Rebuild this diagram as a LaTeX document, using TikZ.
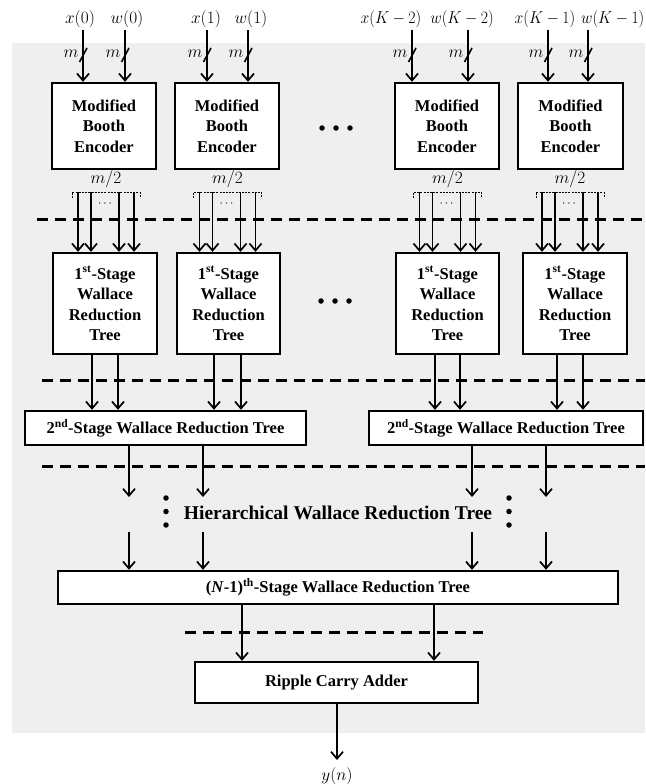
\documentclass[tikz,border=0pt]{standalone}
\usepackage{fontspec}
\setmainfont{Liberation Serif}
\usetikzlibrary{arrows.meta}
\definecolor{bgray}{RGB}{239,239,239}
\newcommand{\kscale}[1]{\scalebox{0.91}[1]{#1}}
\begin{document}
\begin{tikzpicture}[x=1pt,y=-1pt,
  box/.style={draw, line width=2.4pt, fill=white, inner sep=0pt, align=center,
    font=\bfseries\fontsize{16.5}{20.5}\selectfont},
  arr/.style={line width=1.7pt, -{Straight Barb[length=7pt,width=12pt,line width=1.7pt]}},
  sep/.style={line width=3pt, dash pattern=on 11pt off 7pt},
  brk/.style={line width=1pt, dash pattern=on 2pt off 1.2pt},
  lbl/.style={font=\fontsize{16.5}{18}\selectfont, inner sep=0pt},
  small/.style={font=\fontsize{16}{17}\selectfont, inner sep=0pt},
  bigdot/.style={fill=black, circle, inner sep=0pt, minimum size=5.5pt},
  busslash/.pic={\draw[line width=1.6pt] (-3.5,7) -- (4,-7);
                 \node[small] at (-12,-1) {$m$};}]

\useasboundingbox (0,0) rectangle (645,784);
\fill[bgray] (12,43) rectangle (645,733);

% separators
\draw[sep] (37,219) -- (645,219);
\draw[sep] (42,380) -- (645,380);
\draw[sep] (42,466) -- (645,466);
\draw[sep] (185,632) -- (483,632);

% encoder boxes
\node[box, minimum width=104pt, minimum height=86pt] (E1) at (104,126) {Modified\\Booth\\Encoder};
\node[box, minimum width=104pt, minimum height=86pt] (E2) at (227,126) {Modified\\Booth\\Encoder};
\node[box, minimum width=104pt, minimum height=86pt] (E3) at (447,126) {Modified\\Booth\\Encoder};
\node[box, minimum width=105pt, minimum height=86pt] (E4) at (570.5,126) {Modified\\Booth\\Encoder};

% first-stage boxes
\node[box, minimum width=104pt, minimum height=101pt] (S1) at (105,303.5) {1\textsuperscript{st}-Stage\\Wallace\\Reduction\\Tree};
\node[box, minimum width=103pt, minimum height=101pt] (S2) at (228.5,303.5) {1\textsuperscript{st}-Stage\\Wallace\\Reduction\\Tree};
\node[box, minimum width=103pt, minimum height=101pt] (S3) at (447.5,303.5) {1\textsuperscript{st}-Stage\\Wallace\\Reduction\\Tree};
\node[box, minimum width=104pt, minimum height=101pt] (S4) at (575,303.5) {1\textsuperscript{st}-Stage\\Wallace\\Reduction\\Tree};

% second-stage boxes
\node[box, minimum width=281pt, minimum height=34pt] (T1) at (165.5,428) {2\textsuperscript{nd}-Stage Wallace Reduction Tree};
\node[box, minimum width=274pt, minimum height=34pt] (T2) at (506,428) {2\textsuperscript{nd}-Stage Wallace Reduction Tree};

% (N-1)th stage and adder
\node[box, minimum width=560pt, minimum height=33pt] (N) at (338,587.5) {(\textit{N}-1)\textsuperscript{th}-Stage Wallace Reduction Tree};
\node[box, minimum width=283pt, minimum height=41pt] (R) at (336.5,682.5) {Ripple Carry Adder};

% input labels
\node[lbl] (lx0) at (80,19) {$x(0)$};
\node[lbl] (lw0) at (127,19) {$w(0)$};
\node[lbl] (lx1) at (206,19) {$x(1)$};
\node[lbl] (lw1) at (251,19) {$w(1)$};
\node[lbl] (lx2) at (391,19) {\kscale{$x(K-2)$}};
\node[lbl] (lw2) at (462,19) {\kscale{$w(K-2)$}};
\node[lbl] (lx3) at (545,19) {\kscale{$x(K-1)$}};
\node[lbl, anchor=east] (lw3) at (644.5,19) {\kscale{$w(K-1)$}};

% input arrows with bus slashes
\foreach \nm/\xx/\tg in {a/83/E1, b/125/E1, c/207/E2, d/248/E2, e/412/E3, f/468/E3, g/548/E4, h/588/E4} {
  \coordinate (in\nm) at (\xx,30);
  \draw[arr] (in\nm) -- (\tg.north -| in\nm);
  \path (in\nm) ++(0,25) pic {busslash};
}

% m/2 brackets and arrows into first stage
\foreach \n/\cx in {1/106,2/227.5,3/447.5,4/570} {
  \draw[brk] (\cx-34,198) -- (\cx-34,192) -- (\cx+34,192) -- (\cx+34,198);
  \node[small] (h\n) at (\cx,179) {$m/2$};
  \node[inner sep=0pt, font=\fontsize{12}{12}\selectfont] (c\n) at (\cx-1,204) {$\cdots$};
  \foreach \k/\dx in {a/-28,b/-15,c/13,d/28} {
    \coordinate (b\n\k) at (\cx+\dx,192);
    \draw[arr] (b\n\k) -- (S\n.north -| b\n\k);
  }
}

% first stage to second stage
\foreach \nm/\xx/\sr/\tg in {a/92/S1/T1, b/118/S1/T1, c/214/S2/T1, d/241/S2/T1,
                             e/435/S3/T2, f/460/S3/T2, g/557/S4/T2, h/583/S4/T2} {
  \coordinate (o\nm) at (\xx,354);
  \draw[arr] (\sr.south -| o\nm) -- (\tg.north -| o\nm);
}

% second stage to hierarchical, then to (N-1)th stage
\foreach \nm/\xx/\sr in {a/129/T1, b/203/T1, c/472/T2, d/546/T2} {
  \coordinate (p\nm) at (\xx,497);
  \coordinate (q\nm) at (\xx,532);
  \draw[arr] (\sr.south -| p\nm) -- (p\nm);
  \draw[arr] (q\nm) -- (N.north -| q\nm);
}

\node[inner sep=0pt, font=\bfseries\fontsize{19.5}{22}\selectfont] (H) at (338,513) {Hierarchical Wallace Reduction Tree};

% (N-1)th stage to adder
\foreach \nm/\xx in {a/242, b/434} {
  \coordinate (r\nm) at (\xx,604);
  \draw[arr] (N.south -| r\nm) -- (R.north -| r\nm);
}

% output
\node[lbl] (y) at (337,776) {$y(n)$};
\coordinate (yend) at (337,760);
\draw[arr] (R.south -| yend) -- (yend);

% ellipsis dots
\foreach \xx in {322,336,350} \node[bigdot] at (\xx,128) {};
\foreach \xx in {321,335,349} \node[bigdot] at (\xx,301) {};
\foreach \xx in {166,509} {
  \foreach \yy in {498,511.5,525} \node[bigdot] at (\xx,\yy) {};
}
\end{tikzpicture}
\end{document}
